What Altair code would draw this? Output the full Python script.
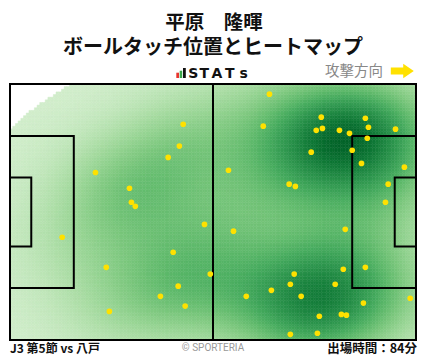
import numpy as np
import pandas as pd
import altair as alt

alt.data_transformers.disable_max_rows()

# ---- data: ball touch positions (pitch metres, x: 0-105 attacking right, y: 0-68 from bottom)
touch_x = [22.1, 30.9, 31.4, 32.4, 44.8, 43.8, 40.9, 67.1, 65.5, 56.5,
           80.5, 79.2, 80.8, 85.2, 87.8, 91.9, 92.7, 99.7, 92.4, 88.5,
           77.9, 90.9, 102.0, 72.2, 73.8, 97.8, 97.1, 13.5, 24.9, 25.7,
           50.3, 42.2, 51.8, 43.5, 38.9, 45.3, 57.8, 61.1, 67.6, 86.7,
           86.2, 91.9, 73.5, 72.5, 84.1, 75.3, 91.4, 103.5, 80.0, 85.7,
           87.0, 72.5, 79.5]
touch_y = [44.5, 40.3, 36.6, 35.5, 57.3, 51.5, 48.5, 65.3, 56.8, 45.1,
           59.2, 55.7, 56.2, 55.7, 54.9, 58.9, 56.5, 56.0, 53.6, 50.4,
           49.9, 46.9, 45.9, 41.4, 40.8, 41.4, 36.6, 27.3, 19.3, 7.6,
           30.7, 23.3, 17.5, 14.3, 11.6, 9.0, 28.9, 11.6, 13.2, 29.4,
           18.8, 19.3, 17.5, 14.8, 14.8, 11.6, 9.8, 11.1, 6.3, 6.8,
           6.6, 1.5, 1.8]

title_line1 = "平原　隆暉"
title_line2 = "ボールタッチ位置とヒートマップ"
logo_letters = ["S", "T", "A", "T", "s"]
direction_label = "攻撃方向"
match_label = "J3 第5節 vs 八戸"
minutes_label = "出場時間：84分"
credit_label = "© SPORTERIA"

PITCH_L, PITCH_W = 105.0, 68.0

# pitch markings (x1, x2, y1, y2)
box_x1 = [0.0, 0.0, 0.0, 88.5, 99.5]
box_x2 = [105.0, 16.5, 5.5, 105.0, 105.0]
box_y1 = [0.0, 13.84, 24.84, 13.84, 24.84]
box_y2 = [68.0, 54.16, 43.16, 54.16, 43.16]

# ---- 2D gaussian KDE (Scott bandwidth) computed from the touches
LOW_CUT = 0.009  # densities below this fraction of the peak stay white
pts = np.vstack([touch_x, touch_y])
n = pts.shape[1]
factor = n ** (-1.0 / 6.0)
kcov = np.cov(pts) * factor ** 2
inv = np.linalg.inv(kcov)
norm = 1.0 / (2 * np.pi * np.sqrt(np.linalg.det(kcov)) * n)


def kde(gx, gy):
    dx = gx[..., None] - pts[0]
    dy = gy[..., None] - pts[1]
    q = inv[0, 0] * dx * dx + 2 * inv[0, 1] * dx * dy + inv[1, 1] * dy * dy
    return norm * np.exp(-0.5 * q).sum(-1)


nx, ny = 150, 97
cwx, cwy = PITCH_L / nx, PITCH_W / ny
cx = (np.arange(nx) + 0.5) * cwx
cy = (np.arange(ny) + 0.5) * cwy
CX, CY = np.meshgrid(cx, cy)
D = kde(CX, CY)
T = D / D.max()
mask = T >= LOW_CUT
heat = pd.DataFrame({
    "x": np.round(CX[mask] - cwx / 2, 3),
    "x2": np.round(CX[mask] + cwx / 2, 3),
    "y": np.round(CY[mask] - cwy / 2, 3),
    "y2": np.round(CY[mask] + cwy / 2, 3),
    "t": np.round(T[mask], 4),
})

touches = pd.DataFrame({"x": touch_x, "y": touch_y})
boxes = pd.DataFrame({"x": box_x1, "x2": box_x2, "y": box_y1, "y2": box_y2})
center = pd.DataFrame({"x": [52.5], "y": [0.0], "y2": [68.0]})

xs = alt.Scale(domain=[0, PITCH_L], nice=False, zero=False)
ys = alt.Scale(domain=[0, PITCH_W], nice=False, zero=False)
gs = alt.Scale(scheme="greens", domain=[0, 1])

heat_layer = alt.Chart(heat).mark_rect(strokeWidth=0.5).encode(
    x=alt.X("x:Q", scale=xs, axis=None),
    x2="x2:Q",
    y=alt.Y("y:Q", scale=ys, axis=None),
    y2="y2:Q",
    fill=alt.Fill("t:Q", scale=gs, legend=None),
    stroke=alt.Stroke("t:Q", scale=gs, legend=None),
)

box_layer = alt.Chart(boxes).mark_rect(
    fillOpacity=0, stroke="black", strokeWidth=2
).encode(
    x=alt.X("x:Q", scale=xs, axis=None), x2="x2:Q",
    y=alt.Y("y:Q", scale=ys, axis=None), y2="y2:Q",
)

center_layer = alt.Chart(center).mark_rule(color="black", strokeWidth=2).encode(
    x=alt.X("x:Q", scale=xs, axis=None),
    y=alt.Y("y:Q", scale=ys, axis=None), y2="y2:Q",
)

point_layer = alt.Chart(touches).mark_circle(size=32, color="#FFE100", opacity=1).encode(
    x=alt.X("x:Q", scale=xs, axis=None),
    y=alt.Y("y:Q", scale=ys, axis=None),
)

one = pd.DataFrame({"a": [0]})
JP = "Noto Sans CJK JP"


def txt(label, x, y, size, color="#111111", weight="bold", align="center", font=JP):
    return alt.Chart(one).mark_text(
        text=label, fontSize=size, font=font, fontWeight=weight, color=color,
        align=align, baseline="middle"
    ).encode(x=alt.value(x), y=alt.value(y))


texts = [
    txt(title_line1, 204, -61.5, 19.5),
    txt(title_line2, 203, -36, 20),
    txt(direction_label, 344, -12.5, 14.5, color="#888888", weight="normal"),
    txt(match_label, 0, 265, 12, align="left"),
    txt(minutes_label, 407, 265, 12.5, align="right"),
    txt(credit_label, 203, 264, 10, color="#999999", weight="normal", font="Roboto"),
]
for letter, lx in zip(logo_letters, [183.3, 194.3, 206.8, 219.8, 233.7]):
    texts.append(txt(letter, lx, -10.5, 14, font="DejaVu Sans"))


def bar(x1, x2, y1, y2, color):
    return alt.Chart(one).mark_rect(color=color).encode(
        x=alt.value(x1), x2=alt.value(x2), y=alt.value(y1), y2=alt.value(y2))


logo = [
    bar(166.3, 169.0, -11.3, -6, "#e8352e"),
    bar(169.7, 172.2, -13.3, -6, "#3aa84a"),
    bar(173.0, 175.8, -16, -6, "#111111"),
]

arrow = alt.Chart(one).mark_point(
    shape="M -1 -0.3 L 0.08 -0.3 L 0.08 -0.62 L 1 0 L 0.08 0.62 L 0.08 0.3 L -1 0.3 Z",
    size=529, filled=True, color="#FFE100", opacity=1, strokeWidth=0
).encode(x=alt.value(392.3), y=alt.value(-13))

chart = alt.layer(
    heat_layer, box_layer, center_layer, point_layer, *texts, *logo, arrow
).properties(
    width=406, height=256,
    padding={"left": 2, "top": 76, "right": 4, "bottom": 16},
    autosize=alt.AutoSizeParams(type="none"),
    background="white",
).configure_view(strokeWidth=0)

chart.save("out.html", embed_options={"renderer": "svg", "actions": False})
